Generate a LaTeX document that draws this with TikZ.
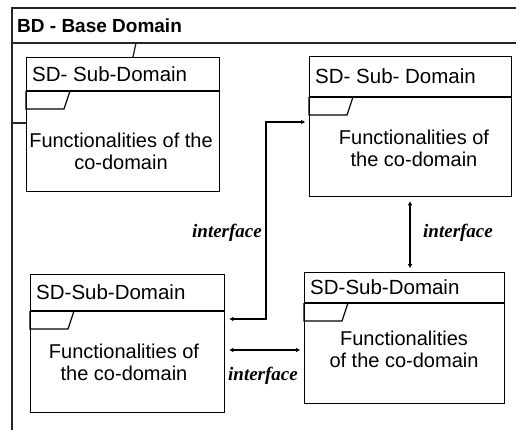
\documentclass[tikz,border=0pt]{standalone}
\usepackage{fontspec}
\setmainfont{Liberation Sans}
\newfontfamily\ifacefont{Liberation Serif}
\usetikzlibrary{arrows.meta,calc}

\tikzset{
  frameline/.style={line width=1.3pt,black!85},
  sdbox/.style={draw,line width=1.4pt,rectangle,inner sep=0pt,anchor=north west},
  boxline/.style={line width=1.2pt},
  titletxt/.style={anchor=west,inner sep=0pt,font=\fontsize{20.5}{23}\selectfont},
  bodytxt/.style={align=center,inner sep=0pt,font=\fontsize{20}{22}\selectfont},
  ifacetxt/.style={inner sep=0pt,font=\ifacefont\bfseries\itshape\fontsize{19}{22}\selectfont},
  link/.style={line width=1.1pt,{Triangle[length=4pt,width=4pt]}-{Triangle[length=4pt,width=4pt]},shorten <=4pt,shorten >=4pt},
}

% y grows downwards in this picture
\newcommand{\subdomain}[7]{%
  % #1 name, #2 x, #3 y, #4 width, #5 height, #6 title band, #7 title
  \node[sdbox,minimum width=#4pt,minimum height=#5pt] (#1) at (#2,#3) {};
  \draw[boxline] ($(#1.north west)+(0,#6)$) coordinate (#1-sw) -- ($(#1.north east)+(0,#6)$);
  \draw[boxline] (#1-sw) -- ++(0,18) -- ++(38,0) -- ++(6,-18);
  \node[titletxt] (#1-title) at ($(#1.north west)+(6,#6/2)$) {#7};
}

\begin{document}
\begin{tikzpicture}[x=1pt,y=-1pt]
  \useasboundingbox (0,0) rectangle (516,430);

  % base domain frame
  \coordinate (bdtl) at (12,8);
  \coordinate (bdtr) at (516,8);
  \coordinate (bdbl) at (12,430);
  \coordinate (bdhl) at (12,43);
  \coordinate (bdhr) at (516,43);
  \draw[frameline] (bdtr) -- (bdtl) -- (bdbl);
  \draw[frameline] (bdhl) -- (bdhr);
  \node[anchor=west,inner sep=0pt,font=\bfseries\fontsize{19}{22}\selectfont] (bdtitle) at (17,26) {BD - Base Domain};

  % sub-domains
  \subdomain{sdA}{26}{57}{193}{134}{34}{SD- Sub-Domain}
  \node[bodytxt] (sdA-body) at (121,151) {Functionalities of the\\co-domain};

  \subdomain{sdB}{309}{56}{202}{140}{41}{SD- Sub- Domain}
  \node[bodytxt] (sdB-body) at (414,148.5) {Functionalities of\\the co-domain};

  \subdomain{sdC}{30}{274}{194}{138}{37}{SD-Sub-Domain}
  \node[bodytxt] (sdC-body) at (124,362) {Functionalities of\\the co-domain};

  \subdomain{sdD}{304}{272}{200}{131}{31}{SD-Sub-Domain}
  \node[bodytxt] (sdD-body) at (404,349) {Functionalities\\of the co-domain};

  % small ties from the base frame to the first sub-domain
  \coordinate (tieA) at (136,43);
  \draw[frameline] (tieA) -- (sdA.north -| 133,0);
  \draw[frameline] (12,123) -- (sdA.west |- 0,123);

  % interfaces
  \draw[link] (sdC.east |- 0,319) -- (266,319) -- (266,122) -- (sdB.west |- 0,122);
  \draw[link] (sdB.south -| 410,0) -- (sdD.north -| 410,0);
  \draw[link] (sdC.east |- 0,350) -- (sdD.west |- 0,350);

  \node[ifacetxt,anchor=east] (ifA) at (262,233) {interface};
  \node[ifacetxt,anchor=west] (ifB) at (423,233) {interface};
  \node[ifacetxt] (ifC) at (263,376) {interface};
\end{tikzpicture}
\end{document}
